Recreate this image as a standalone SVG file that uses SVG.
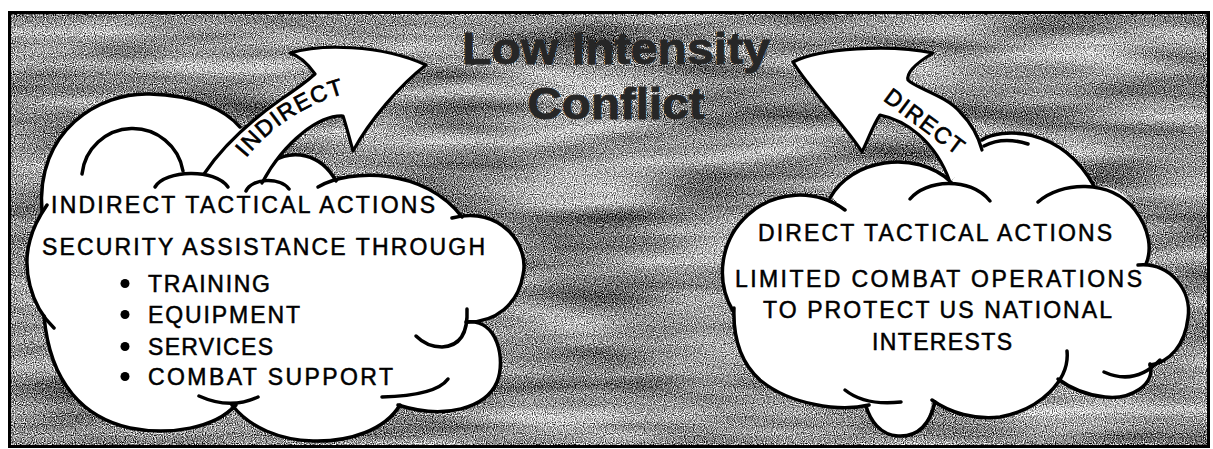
<svg xmlns="http://www.w3.org/2000/svg" width="1213" height="449" viewBox="0 0 1213 449">
<defs>
  <filter id="grain" x="0" y="0" width="100%" height="100%" color-interpolation-filters="sRGB">
    <feTurbulence type="fractalNoise" baseFrequency="0.9" numOctaves="1" seed="4" result="f0"/>
    <feColorMatrix in="f0" type="matrix" values="1 0 0 0 0  1 0 0 0 0  1 0 0 0 0  0 0 0 0 1" result="fine"/>
    <feTurbulence type="fractalNoise" baseFrequency="0.006 0.04" numOctaves="2" seed="9" result="c0"/>
    <feColorMatrix in="c0" type="matrix" values="1 0 0 0 0  1 0 0 0 0  1 0 0 0 0  0 0 0 0 1" result="coarse"/>
    <feComposite in="fine" in2="coarse" operator="arithmetic" k1="0" k2="1" k3="0.35" k4="-0.175" result="mix"/>
    <feColorMatrix in="mix" type="matrix" values="2.2 0 0 0 -0.54  2.2 0 0 0 -0.54  2.2 0 0 0 -0.54  0 0 0 0 1"/>
  </filter>
  <path id="p-ind" d="M240,166 Q285,105 360,90" fill="none"/>
  <path id="p-dir" d="M880,98 L968,164" fill="none"/>
  <style>
    .ln{fill:none;stroke:#000;stroke-width:3.5;stroke-linecap:round;stroke-linejoin:round}
    .wf{fill:#fff;stroke:none}
    .arrow{fill:#fff;stroke:#000;stroke-width:3.2;stroke-linejoin:round;stroke-linecap:round}
    .txt{font-family:"Liberation Sans",Arial,Helvetica,sans-serif;font-size:23px;fill:#000;stroke:#000;stroke-width:0.5}
    .lbl{font-family:"Liberation Sans",Arial,Helvetica,sans-serif;font-size:23px;fill:#000;stroke:#000;stroke-width:0.7;letter-spacing:1.5px}
    .title{font-family:"Liberation Sans",Arial,Helvetica,sans-serif;font-weight:bold;font-size:44px;fill:#262626;stroke:#262626;stroke-width:0.8}
  </style>
</defs>
<rect width="1213" height="449" fill="#fff"/>
<g id="background">
  <rect x="9" y="12" width="1200" height="435" fill="#909090" filter="url(#grain)"/>
  <rect x="9.5" y="12.5" width="1199" height="434" fill="none" stroke="#000" stroke-width="3"/>
</g>
<g id="title">
  <text class="title" x="616" y="64" text-anchor="middle" textLength="308" lengthAdjust="spacingAndGlyphs">Low Intensity</text>
  <text class="title" x="616" y="119" text-anchor="middle" textLength="177" lengthAdjust="spacingAndGlyphs">Conflict</text>
</g>
<g id="cloud-indirect">
  <path class="wf" d="M42,212 C35,130 100,92 150,94 C195,95 225,110 240,127 L273,161 C292,150 320,152 336,181 L318,187 C350,168 425,168 462,217 C500,205 530,245 523,275 C518,305 495,322 468,322 C498,318 506,360 497,382 C486,408 445,420 398,405 C385,430 350,442 313,441 C280,440 250,428 232,405 C215,428 170,436 130,428 C85,418 50,385 44,316 C22,285 22,250 42,212 Z"/>
  <path class="ln" d="M42,212 C35,130 100,92 150,94 C195,95 225,110 240,127"/>
  <path class="ln" d="M273,161 C292,150 320,152 336,181"/>
  <path class="ln" d="M318,187 C350,168 425,168 462,217"/>
  <path class="ln" d="M452,218 C500,205 530,245 523,275 C518,305 495,322 468,322"/>
  <path class="ln" d="M467,309 C468,330 462,346 442,347 C430,347 422,342 416,336"/>
  <path class="ln" d="M466,322 C498,318 506,360 497,382 C486,408 445,420 398,405"/>
  <path class="ln" d="M448,379 C440,390 420,396 382,397"/>
  <path class="ln" d="M400,405 C385,430 350,442 313,441 C280,440 250,428 232,405"/>
  <path class="ln" d="M199,396 Q230,410 258,397"/>
  <path class="ln" d="M236,405 C215,428 170,436 130,428 C85,418 50,385 44,316"/>
  <path class="ln" d="M54,328 C30,305 22,268 30,240 C33,228 38,218 47,205"/>
  <path class="ln" d="M82,174 A51,51 0 0 1 183,171"/>
  <text class="txt" x="51" y="213" textLength="384">INDIRECT TACTICAL ACTIONS</text>
  <text class="txt" x="42" y="255" textLength="443">SECURITY ASSISTANCE THROUGH</text>
  <circle cx="125" cy="283.5" r="4.5"/>
  <circle cx="125" cy="314.5" r="4.5"/>
  <circle cx="125" cy="346.5" r="4.5"/>
  <circle cx="125" cy="376.5" r="4.5"/>
  <text class="txt" x="148" y="292" textLength="122">TRAINING</text>
  <text class="txt" x="148" y="323" textLength="152">EQUIPMENT</text>
  <text class="txt" x="148" y="355" textLength="125">SERVICES</text>
  <text class="txt" x="148" y="385" textLength="245">COMBAT SUPPORT</text>
</g>
<g id="cloud-direct">
  <path class="wf" d="M733,311 A77,77 0 0 1 845,210 L832,197 C850,160 915,148 951,182 L982,140 C1000,128 1060,125 1094,186 C1120,185 1130,200 1135,210 C1150,230 1152,250 1146,264 C1170,262 1192,290 1188,318 C1185,345 1170,362 1150,365 C1156,385 1130,400 1105,397 C1085,395 1070,388 1058,380 C1045,405 1025,415 1000,417 C975,420 950,413 932,400 C929,428 915,437 898,436 C880,435 870,420 866,406 C840,412 790,405 760,380 C740,362 733,335 733,311 Z"/>
  <path class="ln" d="M733,311 A77,77 0 0 1 845,210"/>
  <path class="ln" d="M830,198 C850,160 915,148 951,182"/>
  <path class="ln" d="M982,140 C1000,128 1060,125 1094,186"/>
  <path class="ln" d="M1038,202 C1060,182 1110,178 1135,210 C1150,230 1152,250 1146,264"/>
  <path class="ln" d="M1138,265 C1170,262 1192,290 1188,318 C1185,345 1170,362 1150,365"/>
  <path class="ln" d="M1104,372 Q1135,386 1160,360"/>
  <path class="ln" d="M1150,364 C1156,385 1130,400 1105,397 C1085,395 1070,388 1058,379"/>
  <path class="ln" d="M1067,351 C1070,380 1040,410 1000,417 C975,420 950,413 932,400"/>
  <path class="ln" d="M935,402 C929,428 915,437 898,436 C880,435 870,420 866,406"/>
  <path class="ln" d="M845,390 Q865,406 901,402"/>
  <path class="ln" d="M869,405 C840,412 790,405 760,380 C740,362 733,335 734,308"/>
  <text class="txt" x="758" y="241" textLength="354">DIRECT TACTICAL ACTIONS</text>
  <text class="txt" x="735" y="287" textLength="407">LIMITED COMBAT OPERATIONS</text>
  <text class="txt" x="763" y="318" textLength="349">TO PROTECT US NATIONAL</text>
  <text class="txt" x="872" y="350" textLength="140">INTERESTS</text>
</g>
<g id="connectors">
  <g id="arrow-indirect">
    <path class="arrow" d="M204,174 C220,150 245,125 280,100 C295,90 305,83 315,74 C308,64 300,56 290,53 C320,44 380,44 426,65 C400,85 370,120 353,151 C350,140 346,125 343,116 C320,115 285,140 262,183"/>
    <text class="lbl"><textPath href="#p-ind" startOffset="10">INDIRECT</textPath></text>
  </g>
  <g id="arrow-direct">
    <path class="arrow" d="M950,182 C935,140 905,120 880,115 C873,125 868,140 862,152 C845,125 810,90 793,62 C820,48 890,44 933,53 C918,62 906,72 908,80 C915,88 945,95 960,112 C972,124 978,135 982,150"/>
    <text class="lbl"><textPath href="#p-dir" startOffset="3">DIRECT</textPath></text>
  </g>
</g>
<g id="cloud-indirect-front">
  <path class="ln" d="M155,187 C165,170 215,168 228,187"/>
  <path class="ln" d="M246,191 C252,178 280,177 289,189"/>
</g>
<g id="cloud-direct-front">
  <path class="ln" d="M910,199 C925,180 970,176 990,201"/>
  <path class="ln" d="M984,146 Q1003,136 1028,144"/>
</g>
</svg>
